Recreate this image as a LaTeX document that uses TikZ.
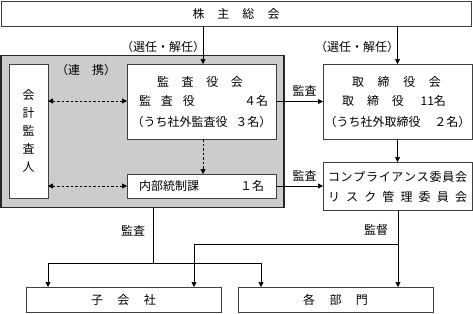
\documentclass[tikz,border=0pt]{standalone}
\usepackage{fontspec}
\setmainfont{Noto Sans CJK JP}
\usetikzlibrary{arrows.meta}
\begin{document}
\begin{tikzpicture}[x=1pt,y=-1pt,
  every node/.style={inner sep=0pt,outer sep=0pt,font=\fontsize{12}{14}\selectfont},
  box/.style={draw=black!75,line width=0.8pt,fill=white,minimum width=#1},
  lab/.style={anchor=center},
  arr/.style={line width=0.7pt,-{Triangle[length=5pt,width=5pt]}},
  darr/.style={line width=0.7pt,dash pattern=on 2.5pt off 2pt,{Triangle[length=5pt,width=5pt]}-{Triangle[length=5pt,width=5pt]}},
  dsarr/.style={line width=0.7pt,dash pattern=on 2.5pt off 2pt,-{Triangle[length=5pt,width=5pt]}},
  ln/.style={line width=0.7pt}]
\useasboundingbox (0,0) rectangle (473,313);
% shareholders
\node[box=470pt,minimum height=25pt] (soukai) at (236,13.5) {\makebox[87pt]{株\hfill 主\hfill 総\hfill 会}};
% gray area
\node[draw=black!85,line width=1.5pt,fill=black!20,minimum width=283pt,minimum height=152pt] (renkei) at (142.5,131.5) {};
\node[lab] (renkeilab) at (86,70) {（連\hspace{1em}携）};
% auditor
\node[box=39pt,minimum height=134pt,align=center,font=\fontsize{12}{18}\selectfont] (kaikei) at (28.5,131) {会\\計\\監\\査\\人};
% kansayakukai
\node[box=149pt,minimum height=75pt] (kansa) at (201.5,101.5) {};
\node[lab] (kt1) at (200,82) {\makebox[86pt]{監\hfill 査\hfill 役\hfill 会}};
\node[lab] (kt2) at (203.5,101) {\makebox[129pt]{監\hspace{10pt}査\hspace{10pt}役\hfill ４名}};
\node[lab] (kt3) at (201.5,122) {\makebox[140pt]{（うち社外監査役\hfill ３名）}};
% torishimariyakukai
\node[box=149pt,minimum height=75pt] (tori) at (397.5,101.5) {};
\node[lab] (tt1) at (396.5,82) {\makebox[89pt]{取\hfill 締\hfill 役\hfill 会}};
\node[lab] (tt2) at (394,101) {\makebox[104pt]{取\hspace{13pt}締\hspace{13pt}役\hfill 11名}};
\node[lab] (tt3) at (397.5,122) {\makebox[146pt]{（うち社外取締役\hfill ２名）}};
% naibu
\node[box=149pt,minimum height=24pt] (naibu) at (201.5,186) {\makebox[125pt]{内部統制課\hfill １名}};
% compliance
\node[box=149pt,minimum height=48pt] (comp) at (397.5,186) {};
\node[lab] (ct1) at (397.5,176.5) {\makebox[139pt]{コ\hfill ン\hfill プ\hfill ラ\hfill イ\hfill ア\hfill ン\hfill ス\hfill 委\hfill 員\hfill 会}};
\node[lab] (ct2) at (397.5,197) {\makebox[139pt]{リ\hfill ス\hfill ク\hfill 管\hfill 理\hfill 委\hfill 員\hfill 会}};
% bottom
\node[box=195pt,minimum height=25pt] (kogaisha) at (123.5,299.5) {\makebox[65pt]{子\hfill 会\hfill 社}};
\node[box=195pt,minimum height=25pt] (kakubu) at (335.5,299.5) {\makebox[65pt]{各\hfill 部\hfill 門}};
% arrows from soukai
\draw[arr] (soukai.south -| 203,0) -- (kansa.north -| 203,0);
\draw[arr] (soukai.south -| tori.north) -- (tori.north);
\node[lab] (sen1) at (163,47) {（選任・解任）};
\node[lab] (sen2) at (357,47) {（選任・解任）};
% audit arrows
\draw[arr] (kansa.east) -- (tori.west);
\node[lab] (ka1) at (304.5,91) {監査};
\draw[arr] (naibu.east) -- (comp.west);
\node[lab] (ka2) at (304.5,176) {監査};
\draw[arr] (tori.south) -- (comp.north);
% dashed
\draw[darr] (kaikei.east |- kt2) -- (kansa.west |- kt2);
\draw[darr] (kaikei.east |- naibu.west) -- (naibu.west);
\draw[dsarr] (kansa.south -| 203,0) -- (naibu.north -| 203,0);
% internal audit to subsidiaries
\coordinate (j1) at (153,263);
\draw[ln] (renkei.south -| j1) -- (j1);
\draw[arr] (j1) -| (kogaisha.north -| 48,0);
\draw[arr] (j1) -| (kakubu.north -| 261,0);
\node[lab] (ka3) at (133,231) {監査};
% supervision
\coordinate (j2) at (398,244);
\draw[arr] (comp.south -| j2) -- (kakubu.north -| j2);
\draw[arr] (j2) -| (kogaisha.north -| 194,0);
\node[lab] (kan) at (376,230) {監督};
\end{tikzpicture}
\end{document}
